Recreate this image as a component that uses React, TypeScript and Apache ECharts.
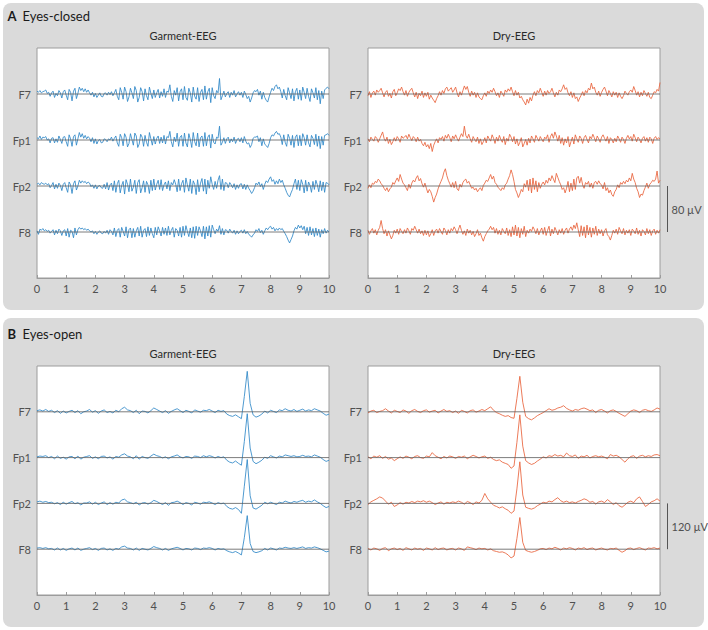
import React, { useEffect, useRef } from "react";
import * as echarts from "echarts";

// ---------- labels ----------
const channels = ["F7", "Fp1", "Fp2", "F8"];
const channelOffsets = [4, 3, 2, 1];
const plotTitles = ["Garment-EEG", "Dry-EEG"];
const panelLetters = ["A", "B"];
const panelNames = ["Eyes-closed", "Eyes-open"];
const scaleBarUv = [80, 120]; // µV represented by one channel spacing
const xMin = 0;
const xMax = 10;

// ---------- A: eyes-closed, garment (µV, 0.05 s steps) ----------
const closedGarmentF7 = [
  5, 3, 6, 2, 4, 5, 7, 1, 3, -4,
  2, 5, -6, 1, -3, 6, 2, -7, 4, 7,
  -2, -10, 8, 3, -12, 5, 10, -8, 1, 12,
  6, 10, 4, 9, 3, 7, 2, -2, 3, -5,
  1, -6, -2, 2, -4, -5, 1, 2, -2, 3,
  -1, 4, -3, 2, 8, -4, -10, 11, 3, -9,
  12, 4, -13, -5, 10, 2, -8, 13, 6, -14,
  -6, 11, 4, -12, 9, -3, -10, 12, 1, -8,
  7, -6, 2, 8, -7, 4, -4, 9, -6, 5,
  3, 16, -4, -13, 6, -2, 11, -12, 4, 9,
  -10, 13, -6, -11, 10, 2, -14, 12, -4, -9,
  11, -13, 3, 8, -10, 14, -9, 4, 10, -15,
  11, -3, -8, 6, 2, 27, -10, -3, 5, -5,
  1, 4, -6, 3, -2, 6, -5, 0, 4, -2,
  3, -6, 5, -1, -8, -4, -14, -7, 2, 6,
  4, 8, -2, 5, -9, 3, -6, -11, -14, -5,
  3, 10, 6, 13, 16, 9, 12, 4, -7, 8,
  -3, -10, 11, 2, -8, 9, -12, 4, 10, -9,
  7, -11, 12, 3, -8, 10, -4, -13, 9, 2,
  -7, 11, -10, 6, -17, 5, -8, 7, 10, 12,
  9,
];
const closedGarmentFp1 = [
  4, 2, 7, 1, 5, 4, 6, 0, 2, -5,
  3, 4, -5, 2, -4, 7, 1, -6, 5, 6,
  -3, -11, 9, 2, -11, 6, 9, -9, 2, 13,
  5, 11, 3, 8, 2, 6, 3, -3, 4, -6,
  2, -7, -1, 1, -5, -4, 2, 1, -3, 2,
  0, 5, -2, 3, 7, -5, -11, 10, 4, -10,
  11, 5, -12, -6, 11, 1, -9, 12, 7, -13,
  -7, 10, 5, -11, 8, -4, -11, 13, 2, -9,
  6, -7, 3, 7, -6, 5, -5, 8, -7, 6,
  4, 15, -3, -12, 5, -3, 12, -11, 5, 8,
  -11, 12, -5, -12, 11, 1, -13, 13, -3, -10,
  12, -12, 4, 7, -11, 13, -10, 5, 9, -14,
  10, -4, -7, 5, 3, 24, -9, -4, 4, -6,
  2, 5, -5, 2, -3, 5, -6, 1, 3, -3,
  4, -5, 6, -2, -7, -5, -13, -8, 3, 5,
  5, 7, -3, 4, -10, 2, -7, -10, -13, -6,
  4, 9, 7, 12, 15, 10, 11, 5, -8, 9,
  -4, -11, 10, 3, -9, 8, -13, 5, 9, -10,
  8, -10, 11, 4, -9, 9, -5, -12, 8, 3,
  -8, 10, -11, 7, -15, 6, -9, 8, 9, 11,
  8,
];
const closedGarmentFp2 = [
  3, 5, 2, 6, 4, 3, 5, 2, 4, -3,
  1, 6, -5, 3, -4, 5, 1, -8, 3, 6,
  -3, -11, 7, 2, -13, 4, 9, -7, 0, 10,
  5, 9, 6, 8, 4, 7, 5, -1, 2, -4,
  2, -5, 0, 1, -3, -4, 3, -5, 6, -7,
  2, 5, -8, 9, -11, 4, 10, -12, 1, 8,
  -14, 11, 3, -10, 12, -9, -2, 10, -13, 6,
  11, -12, -3, 9, -11, 8, 2, -13, 10, -8,
  12, -7, 3, 10, -6, 11, -8, 2, 7, -5,
  9, -8, 6, 2, 11, 3, -10, 12, -8, 4,
  10, -11, 14, 2, -9, 12, -13, 9, 3, -15,
  11, -10, 5, 13, -9, 12, -14, 10, -4, 16,
  3, -6, 8, -4, 10, 18, -6, 12, -8, 6,
  5, -3, 6, 2, -3, 4, -6, 2, -4, 3,
  4, -5, 3, -6, 2, -4, -8, -13, -9, -3,
  5, 2, 7, -1, 4, -6, 3, 9, 6, 12,
  16, 8, 11, 3, 9, 4, 12, 6, 10, 2,
  -4, -11, -16, -19, -12, -6, 4, 12, -6, 10,
  -8, 11, 3, -12, 10, -9, 7, 1, -11, 8,
  -6, 10, 2, -10, 9, -8, 7, -11, 6, 5,
  2,
];
const closedGarmentF8 = [
  2, -4, 5, 3, 6, 2, 4, 1, 3, -2,
  1, 4, -5, 3, -3, 5, 2, -6, 2, 4,
  -7, 6, -9, 3, 1, -10, 7, -5, 4, 8,
  5, 7, 4, 6, 3, 5, 2, 0, 2, -3,
  1, -4, 0, 2, -2, -3, 1, -2, 3, -4,
  4, 1, -5, 7, -8, 3, 6, -9, 8, 1,
  -7, 9, -10, 4, 7, -10, 6, -9, 2, 8,
  -7, 10, -9, 3, 6, -8, 9, -6, 7, -3,
  -10, 8, -5, 9, 2, -7, 8, -4, 7, -6,
  10, -5, 3, 8, -9, 6, 3, -7, 8, -9,
  10, -6, 11, 1, -8, 7, -10, 9, -11, 10,
  -6, 9, 2, -8, 10, -12, 9, -7, 11, -9,
  12, 4, -3, 5, 1, 11, -4, 6, -5, 4,
  3, -2, 5, 1, -2, 3, -4, 2, -3, 1,
  3, -2, 4, -3, 1, -4, -6, -9, -5, -2,
  4, 1, 6, -1, 3, -4, 2, 7, 4, 8,
  10, 5, 8, 2, 6, 3, 7, 4, 6, 1,
  -3, -8, -14, -19, -13, -7, 2, 8, 5, 12,
  7, 11, 4, 10, -3, 8, -6, 9, -5, 6,
  -8, 7, -6, 5, -9, 4, -3, 6, -2, 3,
  0,
];

// ---------- A: eyes-closed, dry (µV, 0.05 s steps) ----------
const closedDryF7 = [
  -3, 4, -6, 2, 5, -2, 7, 3, 6, 10,
  2, -5, 3, 6, -4, 1, -7, 4, 8, -3,
  2, 9, 6, 12, 4, -2, 6, -4, 3, 7,
  10, 2, -5, 3, -8, 1, -3, 5, -6, 2,
  -4, 3, -9, -2, -7, -11, -15, -8, -3, 4,
  -2, 6, 1, 9, 12, 5, 8, 11, 3, 7,
  12, 2, -5, 4, -2, 6, 14, 8, 13, 3,
  -4, 5, -2, 3, -6, 2, -5, -8, -10, -3,
  2, -4, 5, 1, 7, 3, 10, 4, -3, 2,
  -6, 5, 1, -4, 7, 3, 9, 5, 12, 4,
  -3, 6, -2, 3, -7, -4, -10, -14, -19, -9,
  -16, -6, -12, -2, 4, -3, 6, 2, 10, 3,
  -4, 5, -2, 6, 1, 4, 10, 2, -5, 3,
  -2, 7, 4, 9, 16, 8, 11, 2, -3, 4,
  -6, 2, -8, -5, -13, -7, -2, 4, -3, 6,
  2, 10, 7, 19, 9, 12, 3, -2, 5, -4,
  3, 8, 12, 5, -3, 6, 1, -5, 4, -2,
  3, -6, 2, -4, -8, -3, 5, 1, -2, 4,
  7, 3, 13, 6, -2, 4, -5, 3, -3, 6,
  1, -4, 3, -6, -8, -2, 4, 2, 8, 5,
  20,
];
const closedDryFp1 = [
  2, -3, 5, 1, -2, 6, 3, -4, 2, 8,
  14, 3, -2, 5, -6, 1, -8, -3, 4, -2,
  6, 2, -4, 7, 3, 5, 8, 2, 10, 4,
  -1, 6, 3, -3, 5, -2, 1, -6, -10, -4,
  -12, -8, -15, -6, -20, -9, -3, 2, -5, 4,
  1, 6, -2, 8, 3, 10, 4, -3, 7, 2,
  9, 3, -2, 5, 11, 6, 24, 8, 3, 10,
  2, -4, 6, 1, -3, 5, -6, 2, -8, -3,
  4, -5, 7, 2, -2, 9, 3, -6, 5, -2,
  8, 1, -4, 6, -8, 3, -2, 10, 5, -3,
  6, -7, 2, -10, -4, 4, -12, -6, 1, -9,
  3, -5, 7, 2, -4, 8, 3, -2, 6, 1,
  -3, 5, 2, 9, -4, 6, 11, 3, 14, 7,
  -2, 8, -6, 4, -9, 2, -5, 6, -12, -3,
  5, -7, 9, 2, -4, 7, 3, -6, 4, 8,
  1, -5, 6, 2, 10, 4, -3, 7, 2, -4,
  5, 9, 3, -2, 6, -6, 4, 1, -5, 3,
  -3, 7, 2, -4, 5, 1, -6, 3, 8, 2,
  6, -2, 10, 4, -3, 5, 1, -5, 3, 6,
  -2, 4, -4, 5, 2, -6, 3, 6, 1, 4,
  2,
];
const closedDryFp2 = [
  -4, 2, -3, 5, 3, 8, 6, 12, 9, 4,
  1, -4, -8, -3, -10, -5, -2, 6, 3, 9,
  14, 8, 20, 12, 5, 2, -3, -8, 3, -4,
  5, 10, 7, 14, 18, 9, 13, 4, -2, 5,
  -4, -12, -6, -10, -18, -28, -20, -14, -5, 2,
  8, 14, 24, 30, 18, 10, 4, -2, 6, -3,
  8, -5, -8, 3, -2, 6, 10, 12, 5, 8,
  2, -4, -2, -7, -4, -10, -6, -3, -8, 1,
  5, 10, 8, 14, 20, 12, 17, 6, 3, -2,
  -5, -8, -3, -6, 2, 5, 12, 18, 28, 20,
  8, -6, -12, -20, -14, -6, -10, 4, -2, 10,
  -8, 12, -12, 14, -6, 9, -10, 6, -4, 3,
  7, 2, 10, 5, 14, 9, 18, 12, 6, 22,
  15, 8, 2, -6, -3, -12, -4, 8, -10, 5,
  -8, 12, -6, 14, 17, 5, 15, 2, -4, 6,
  3, 8, -2, 5, -4, 6, 8, 3, 9, 4,
  2, -5, 6, -8, -3, -12, -7, -15, -18, -10,
  -6, 2, -3, 6, 3, 8, 4, 10, 7, 14,
  9, 22, 12, 6, -4, -10, -20, -14, -16, -8,
  -2, 5, -4, 3, 6, 10, 8, 12, 26, 5,
  10,
];
const closedDryF8 = [
  3, -4, 2, 6, -2, 4, -5, 3, 8, 20,
  6, -3, 4, -7, 2, -5, -12, -6, 3, -2,
  5, -4, 6, 1, -3, 4, -2, 7, 2, -4,
  6, 3, 10, 4, -2, 5, -3, 2, -6, 3,
  -5, 2, -8, -3, 4, -6, 2, 5, -2, 6,
  1, -4, 7, 3, -5, 4, -2, 6, 2, 9,
  4, -3, 5, 12, 3, -4, 2, -6, 5, -2,
  3, -5, 1, -8, -3, 4, -6, -2, -10, -16,
  -8, -3, 2, 5, 10, 4, 8, -2, 6, -4,
  3, -5, 6, 1, -3, 7, -6, 4, -8, 9,
  -5, 12, -7, 8, -10, 6, -4, 10, -8, 3,
  -2, 5, 1, 9, 4, -3, 6, -5, 2, 7,
  -4, 8, -6, 3, 10, -7, 5, -3, 8, 2,
  -5, 4, -2, 6, -4, 3, 7, -2, 5, 9,
  3, 12, 6, 16, 4, -8, 11, -6, 9, -10,
  12, -5, 8, -9, 7, -4, 10, -6, 5, -3,
  4, -7, 2, 6, -5, -8, -14, -6, 3, -2,
  5, -4, 8, 2, -3, 6, -5, 3, -2, 4,
  -6, 5, 2, -3, 7, -4, 3, -7, 4, 1,
  -5, 6, -3, 4, -6, 2, 5, -4, 3, -2,
  4,
];

// ---------- B: eyes-open, garment (µV, 0.1 s steps) ----------
const openGarmentF7 = [
  3, 5, 2, 6, 1, 4, -2, 3, -4, 2,
  -3, 1, 4, -2, 3, -5, 0, 2, 6, -1,
  3, -4, 2, 5, -2, 1, -3, 4, 0, 8,
  12, 5, 3, -2, 4, -5, 2, 1, -3, 3,
  10, 6, 2, -2, 3, -4, 1, 5, 8, 3,
  -2, 4, 1, -3, 5, 2, -1, 4, 3, 6,
  2, -2, 4, 1, 3, -6, -10, -12, -8, -13,
  -18, 40, 106, 22, -8, -14, -11, -6, 2, -3,
  4, 1, -2, 5, 3, 8, 4, 2, 6, 1,
  4, 7, 2, 5, 3, 8, 5, 2, -4, -9,
  -6,
];
const openGarmentFp1 = [
  2, 4, 3, 5, 0, 3, -3, 4, -2, 1,
  -4, 2, 3, -3, 4, -4, 1, 3, 5, -2,
  2, -3, 3, 4, -1, 2, -4, 3, 1, 7,
  10, 4, 2, -3, 5, -4, 3, 0, -2, 4,
  9, 5, 3, -1, 2, -3, 2, 4, 7, 2,
  -1, 3, 2, -2, 4, 3, 0, 5, 2, 5,
  3, -1, 3, 0, 2, -7, -12, -14, -9, -15,
  -20, 42, 115, 25, -10, -16, -12, -7, 1, -2,
  5, 2, -1, 4, 2, 7, 5, 3, 5, 2,
  3, 6, 3, 4, 2, 7, 4, 1, -5, -10,
  -7,
];
const openGarmentFp2 = [
  4, 6, 3, 5, 2, 3, -1, 2, -3, 3,
  -2, 2, 5, -1, 2, -4, 1, 1, 4, -2,
  3, -3, 1, 4, -3, 2, -2, 3, 1, 9,
  11, 4, 2, -1, 3, -4, 1, 2, -2, 2,
  8, 5, 1, -3, 2, -5, 2, 3, 6, 2,
  -3, 2, 0, -4, 3, 1, -2, 3, 2, 4,
  1, -3, 2, -1, 1, -8, -13, -15, -11, -16,
  -26, 45, 115, 20, -12, -15, -10, -5, 3, -1,
  3, 0, -3, 3, 1, 6, 3, 1, 5, 3,
  6, 8, 3, 6, 4, 9, 4, 0, -6, -11,
  -8,
];
const openGarmentF8 = [
  3, 4, 2, 4, 1, 2, -2, 3, -2, 2,
  -3, 1, 3, -2, 3, -3, 0, 2, 4, -1,
  2, -3, 2, 3, -2, 1, -3, 2, 0, 6,
  8, 3, 2, -2, 3, -3, 2, 0, -2, 2,
  7, 4, 2, -2, 2, -3, 1, 3, 5, 2,
  -2, 2, 1, -2, 3, 2, -1, 3, 2, 4,
  2, -2, 2, 0, 1, -4, -7, -9, -6, -10,
  -15, 30, 88, 15, -6, -9, -7, -4, 2, -2,
  3, 1, -2, 3, 2, 5, 3, 2, 4, 2,
  4, 6, 2, 4, 3, 6, 4, 1, -3, -7,
  -5,
];

// ---------- B: eyes-open, dry (µV, 0.1 s steps) ----------
const openDryF7 = [
  -3, 2, 4, -2, 1, 3, 8, 2, -3, 4,
  1, -2, 5, 2, -4, 3, 6, 1, -2, 3,
  5, -1, 2, 4, -3, 2, 6, 1, 3, -2,
  2, -4, 4, 1, -3, 3, 5, -1, 2, 6,
  3, 8, 13, 4, -2, -5, -9, -12, -10, -15,
  -17, 35, 93, 25, -12, -18, -21, -16, -10, -6,
  -2, 3, 8, 4, 6, 10, 12, 16, 9, 5,
  2, 6, 4, 8, 10, 7, 3, 5, -2, 4,
  6, 2, -3, 3, 5, 1, -4, -8, -12, -5,
  2, 5, 3, -2, 4, 6, 3, 1, 5, 10,
  7,
];
const openDryFp1 = [
  2, -3, 4, 1, 5, -2, 3, -4, -1, -8,
  -3, 2, -2, 4, 1, -3, 3, 5, 0, -2,
  4, 2, 13, 5, 1, -3, 3, -1, 4, 2,
  -2, 3, 1, 4, -3, 2, 6, 3, -1, 2,
  4, -2, 1, -5, -8, -6, -12, -15, -18, -28,
  -22, 40, 112, 30, -8, -14, -18, -15, -9, -4,
  2, -1, 5, 3, 8, 4, 6, 2, 12, 5,
  3, 7, -2, 4, 2, 6, -1, 3, 5, 2,
  4, 1, -3, 8, 4, 6, 2, -5, -12, -3,
  3, 5, -2, 4, 6, 2, 5, 3, 7, 8,
  5,
];
const openDryFp2 = [
  -3, 4, 8, 12, 17, 14, 6, -2, 3, -8,
  -4, 2, -2, 3, 1, 5, 2, 6, 4, 7,
  3, 6, 2, -3, 1, 4, -2, 3, 1, 4,
  2, 6, 3, -2, 5, 2, -3, 4, 1, 8,
  26, 12, 3, -5, -8, -12, -9, -14, -18, -26,
  -20, 38, 109, 22, -10, -13, -15, -12, -6, -2,
  3, 1, 6, 4, 10, 15, 7, 3, 6, 2,
  4, 1, 5, 8, 12, 9, 3, 5, -2, 4,
  6, 2, 10, 4, -3, 2, -6, -10, -4, 3,
  6, 2, 12, 17, 5, -8, -3, 4, 7, 12,
  6,
];
const openDryF8 = [
  2, -2, 3, 1, -3, 2, 4, -4, 1, 3,
  -1, 2, -3, 4, 1, -2, 3, 0, 2, -3,
  3, 1, -2, 4, -1, 2, 3, -2, 1, 2,
  -2, 3, 1, -3, 6, 4, 2, -1, 3, 1,
  2, -2, 1, -4, -6, -8, -7, -10, -15, -23,
  -18, 28, 83, 18, -3, -6, -8, -6, -3, 1,
  2, -1, 3, 1, 5, 2, -2, 3, 1, 4,
  2, -2, 3, 1, 4, -1, 2, 3, -2, 1,
  3, 0, -2, 2, 1, 3, -3, -8, -4, 2,
  3, -1, 2, 4, 1, -2, 3, 2, 4, 1,
  3,
];

const closedGarment = [closedGarmentF7, closedGarmentFp1, closedGarmentFp2, closedGarmentF8];
const closedDry = [closedDryF7, closedDryFp1, closedDryFp2, closedDryF8];
const openGarment = [openGarmentF7, openGarmentFp1, openGarmentFp2, openGarmentF8];
const openDry = [openDryF7, openDryFp1, openDryFp2, openDryF8];
const plotData = [
  [closedGarment, closedDry],
  [openGarment, openDry],
];

// ---------- styles / layout ----------
const FONT = 'Lato, "Noto Sans", sans-serif';
const TRACE_COLORS = ["#2f88c8", "#e9633c"];
const BORDER = "#9c9c9c";
const TEXT = "#505050";
const PANEL_BG = "#dadada";
const GRID_LEFT = [37, 368];
const GRID_WIDTH = 292;
const GRID_TOP = [48, 366];
const GRID_HEIGHT = [230, 229];
const PANEL_Y = [3, 318];
const PANEL_H = [307, 309];
const PANEL_TITLE_Y = [16, 334];

function toPoints(values: number[], offset: number, uvPerUnit: number) {
  const n = values.length;
  return values.map((v, i) => [xMin + (i * (xMax - xMin)) / (n - 1), offset + v / uvPerUnit]);
}

export default function App() {
  const ref = useRef<HTMLDivElement>(null);

  useEffect(() => {
    if (!ref.current) return;
    const chart = echarts.init(ref.current, undefined, { renderer: "svg" });

    const grids: any[] = [];
    const xAxes: any[] = [];
    const yAxes: any[] = [];
    const series: any[] = [];

    for (let p = 0; p < 2; p++) {
      for (let c = 0; c < 2; c++) {
        const g = p * 2 + c;
        grids.push({
          left: GRID_LEFT[c],
          top: GRID_TOP[p],
          width: GRID_WIDTH,
          height: GRID_HEIGHT[p],
          show: true,
          backgroundColor: "#ffffff",
          borderColor: BORDER,
          borderWidth: 1,
        });
        xAxes.push({
          gridIndex: g,
          type: "value",
          min: xMin,
          max: xMax,
          interval: 1,
          axisLine: { show: true, lineStyle: { color: BORDER, width: 1 } },
          axisTick: { show: true, inside: true, length: 3, lineStyle: { color: BORDER } },
          axisLabel: { color: TEXT, fontSize: 11, fontFamily: FONT, margin: 5 },
          splitLine: { show: false },
        });
        yAxes.push({
          gridIndex: g,
          type: "value",
          min: 0,
          max: 5,
          interval: 1,
          axisLine: { show: false },
          axisTick: { show: false },
          splitLine: { show: false },
          axisLabel: {
            color: TEXT,
            fontSize: 11,
            fontFamily: FONT,
            margin: 6,
            formatter: (v: number) => {
              const k = channelOffsets.indexOf(v);
              return k >= 0 ? channels[k] : "";
            },
          },
        });
        plotData[p][c].forEach((vals, k) => {
          series.push({
            type: "line",
            xAxisIndex: g,
            yAxisIndex: g,
            data: toPoints(vals, channelOffsets[k], scaleBarUv[p]),
            showSymbol: false,
            symbol: "none",
            silent: true,
            z: 2,
            lineStyle: { color: TRACE_COLORS[c], width: 0.85 },
          });
        });
        channelOffsets.forEach((off) => {
          series.push({
            type: "line",
            xAxisIndex: g,
            yAxisIndex: g,
            data: [
              [xMin, off],
              [xMax, off],
            ],
            showSymbol: false,
            symbol: "none",
            silent: true,
            z: 3,
            lineStyle: { color: "#5a5a5a", width: 0.8 },
          });
        });
      }
    }

    chart.setOption({
      animation: false,
      grid: grids,
      xAxis: xAxes,
      yAxis: yAxes,
      series,
    });

    const graphic: any[] = [];
    for (let p = 0; p < 2; p++) {
      graphic.push({
        type: "rect",
        z: -10,
        silent: true,
        shape: { x: 3, y: PANEL_Y[p], width: 701, height: PANEL_H[p], r: 8 },
        style: { fill: PANEL_BG },
      });
      graphic.push({
        type: "text",
        x: 7.5,
        y: PANEL_TITLE_Y[p],
        style: {
          text: panelLetters[p],
          font: `bold 13px ${FONT}`,
          fill: "#1a1a1a",
          textVerticalAlign: "middle",
        },
      });
      graphic.push({
        type: "text",
        x: 22.5,
        y: PANEL_TITLE_Y[p],
        style: {
          text: panelNames[p],
          font: `13px ${FONT}`,
          fill: "#1a1a1a",
          textVerticalAlign: "middle",
        },
      });
      for (let c = 0; c < 2; c++) {
        graphic.push({
          type: "text",
          x: GRID_LEFT[c] + GRID_WIDTH / 2,
          y: GRID_TOP[p] - 12.5,
          style: {
            text: plotTitles[c],
            font: `11px ${FONT}`,
            fill: "#2a2a2a",
            textAlign: "center",
            textVerticalAlign: "middle",
          },
        });
      }
      // scale bar: one channel spacing (between Fp2 and F8 baselines)
      const g = p * 2 + 1;
      const pTop = chart.convertToPixel({ gridIndex: g }, [xMax, channelOffsets[2]]) as number[];
      const pBot = chart.convertToPixel({ gridIndex: g }, [xMax, channelOffsets[3]]) as number[];
      const bx = pTop[0] + 7.5;
      graphic.push({
        type: "line",
        silent: true,
        shape: { x1: bx, y1: pTop[1], x2: bx, y2: pBot[1] },
        style: { stroke: "#555", lineWidth: 1 },
      });
      graphic.push({
        type: "text",
        x: bx + 4,
        y: (pTop[1] + pBot[1]) / 2,
        style: {
          text: `${scaleBarUv[p]} µV`,
          font: `11px ${FONT}`,
          fill: TEXT,
          textVerticalAlign: "middle",
        },
      });
    }
    chart.setOption({ graphic });

    return () => chart.dispose();
  }, []);

  return (
    <div
      ref={ref}
      style={{ position: "absolute", left: 0, top: 0, width: 708, height: 630, background: "#ffffff" }}
    />
  );
}
